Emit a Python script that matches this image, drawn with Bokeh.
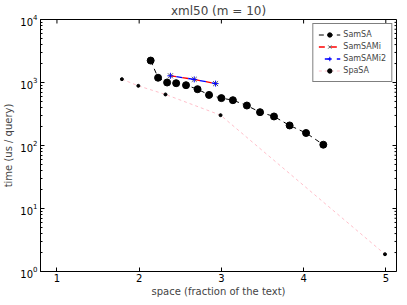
import math
from bokeh.plotting import figure
from bokeh.models import Legend, LegendItem, FixedTicker, Range1d
from bokeh.embed import file_html
from bokeh.resources import INLINE

# ---- data ----
samsa_x = [2.14, 2.23, 2.34, 2.45, 2.57, 2.71, 2.85, 3.00, 3.14, 3.31, 3.47, 3.64, 3.83, 4.03, 4.24]
samsa_y = [2230, 1190, 1000, 975, 906, 783, 635, 565, 524, 431, 338, 289, 208, 158, 103]

samsami_x = [2.38, 2.67, 2.93]
samsami_y = [1277, 1120, 960]

samsami2_x = [2.38, 2.67, 2.93]
samsami2_y = [1277, 1120, 960]

spasa_x = [1.79, 1.99, 2.32, 2.99, 4.99]
spasa_y = [1130, 885, 646, 303, 1.88]

x_ticks = [1, 2, 3, 4, 5]
y_decades = [1, 10, 100, 1000, 10000]
x_lo, x_hi = 0.8, 5.13
y_lo, y_hi = 1, 1e4

FONT = "DejaVu Sans"

p = figure(frame_width=356, frame_height=252,
           x_range=Range1d(x_lo, x_hi), y_range=Range1d(y_lo, y_hi),
           y_axis_type="log", output_backend="svg", toolbar_location=None,
           title="xml50 (m = 10)",
           min_border_left=0, min_border_right=1, min_border_top=0, min_border_bottom=0)

p.title.align = "center"
p.title.text_font = FONT
p.title.text_font_size = "12px"
p.title.text_font_style = "normal"
p.title.standoff = 3
p.title.offset = 0

p.xgrid.visible = False
p.ygrid.visible = False
p.outline_line_color = "black"
p.outline_line_width = 1
p.background_fill_color = "white"
p.border_fill_color = "white"

def style_axis(ax):
    ax.major_tick_in = 4
    ax.major_tick_out = 0
    ax.minor_tick_in = 2
    ax.minor_tick_out = 0
    ax.axis_line_color = None
    ax.major_tick_line_color = "black"
    ax.minor_tick_line_color = "black"
    ax.major_label_text_font = FONT
    ax.major_label_text_font_size = "10px"
    ax.major_label_text_color = "black"
    ax.major_label_standoff = 2
    ax.axis_label_text_font = FONT
    ax.axis_label_text_font_size = "10px"
    ax.axis_label_text_font_style = "normal"
    ax.axis_label_standoff = 1

xa = p.xaxis[0]
xa.ticker = FixedTicker(ticks=x_ticks, minor_ticks=[])
xa.axis_label = "space (fraction of the text)"
style_axis(xa)

ya = p.yaxis[0]
ya.axis_label = "time (us / query)"
style_axis(ya)
ya.major_label_standoff = 3
ya.axis_label_standoff = 3

# ---- inside ticks on the top and right edges (matplotlib-style box) ----
p.scatter(x_ticks, [y_hi] * len(x_ticks), marker="dash", angle=math.pi / 2,
          size=8, line_color="black", line_width=1)
p.scatter([x_hi] * len(y_decades), y_decades, marker="dash",
          size=8, line_color="black", line_width=1)
y_minor = [d * k for d in y_decades[:-1] for k in range(2, 10)]
p.scatter([x_hi] * len(y_minor), y_minor, marker="dash",
          size=4, line_color="black", line_width=1)

# ---- series ----
r1l = p.line(samsa_x, samsa_y, line_color="black", line_dash="5 4", line_width=1)
r1m = p.scatter(samsa_x, samsa_y, marker="circle", size=7, fill_color="black", line_color="black")

r2l = p.line(samsami_x, samsami_y, line_color="red", line_dash="6 6", line_width=1.3)
r2m = p.scatter(samsami_x, samsami_y, marker="x", size=7, line_color="#555555", line_width=1)

r3l = p.line(samsami2_x, samsami2_y, line_color="blue", line_dash="6 6", line_dash_offset=6, line_width=1.3)
r3m = p.scatter(samsami2_x, samsami2_y, marker="cross", size=6, line_color="blue", line_width=1)

r4l = p.line(spasa_x, spasa_y, line_color="pink", line_dash="3 3", line_width=1)
r4m = p.scatter(spasa_x, spasa_y, marker="circle", size=3, fill_color="black", line_color="black")

legend = Legend(items=[
    LegendItem(label="SamSA", renderers=[r1l, r1m]),
    LegendItem(label="SamSAMi", renderers=[r2l, r2m]),
    LegendItem(label="SamSAMi2", renderers=[r3l, r3m]),
    LegendItem(label="SpaSA", renderers=[r4l, r4m]),
], location="top_right")
legend.label_text_font = FONT
legend.label_text_font_size = "8px"
legend.glyph_width = 22
legend.glyph_height = 11
legend.label_height = 11
legend.spacing = 1
legend.padding = 5
legend.margin = 4
legend.label_standoff = 3
legend.border_line_color = "black"
legend.border_line_width = 1
legend.background_fill_alpha = 1
p.add_layout(legend)

open("out.html", "w").write(file_html(p, INLINE))
